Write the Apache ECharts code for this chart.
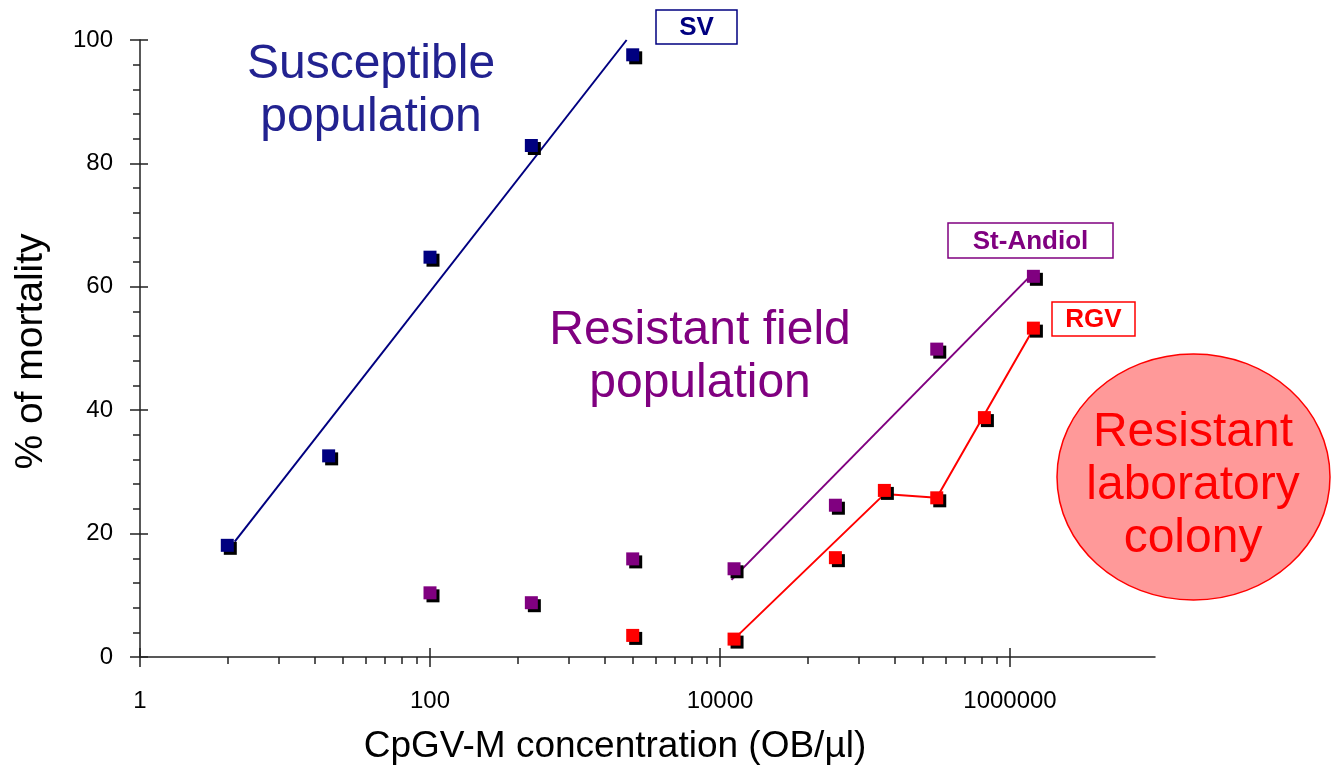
<!DOCTYPE html>
<html>
<head>
<meta charset="utf-8">
<script src="https://cdn.jsdelivr.net/npm/echarts@6/dist/echarts.min.js"></script>
<style>
  html, body { margin: 0; padding: 0; background: #ffffff; }
  #chart { width: 1331px; height: 766px; }
</style>
</head>
<body>
<div id="chart"></div>
<script>
const FONT = '"Liberation Sans", Arial, Helvetica, sans-serif';

// Dose (OB/µl) and mortality (%) per population
const svDose = [4, 20, 100, 500, 2500];
const svMortality = [18.1, 32.6, 64.8, 82.9, 97.6];

const andiolDose = [100, 500, 2500, 12500, 62500, 312500, 1450000];
const andiolMortality = [10.4, 8.8, 15.9, 14.3, 24.6, 49.9, 61.7];

const rgvDose = [2500, 12500, 62500, 136000, 312500, 666000, 1450000];
const rgvMortality = [3.5, 2.9, 16.1, 27.0, 25.8, 38.8, 53.3];

// Fitted response lines
const svFitDose = [4.5, 2270];
const svFitMortality = [18.7, 100];

const andiolFitDose = [12000, 1400000];
const andiolFitMortality = [12.5, 61.9];

const rgvFitDose = [13000, 136000, 312500, 666000, 1420000];
const rgvFitMortality = [3.3, 26.4, 25.8, 39.3, 52.8];

// Axis ticks
const xMajorTicks = [1, 100, 10000, 1000000];
const xTickLabels = ['1', '100', '10000', '1000000'];
const xMinorTicks = [
  4, 9, 16, 25, 36, 49, 64, 81,
  400, 900, 1600, 2500, 3600, 4900, 6400, 8100,
  40000, 90000, 160000, 250000, 360000, 490000, 640000, 810000
];
const yMin = 0, yMax = 100, yStep = 20;

const NAVY = '#000080';
const PURPLE = '#800080';
const RED = '#ff0000';
const AXIS = '#222222';

const pairs = (xs, ys) => xs.map((x, i) => [x, ys[i]]);

const chart = echarts.init(document.getElementById('chart'), null, { renderer: 'canvas' });

const xBase = {
  type: 'log', logBase: 10, min: 1, max: 10000000,
  gridIndex: 0, position: 'bottom',
  splitLine: { show: false }, minorTick: { show: false }, minorSplitLine: { show: false }
};
const yBase = {
  type: 'value', min: yMin, max: yMax, interval: yStep,
  gridIndex: 0, position: 'left',
  splitLine: { show: false }, minorSplitLine: { show: false }
};
const tickLine = { color: AXIS, width: 1.5 };

function fitLine(xs, ys, color) {
  return {
    type: 'line', data: pairs(xs, ys), symbol: 'none', silent: true, z: 2,
    lineStyle: { color: color, width: 2 }
  };
}
function shadowPoints(xs, ys) {
  return {
    type: 'scatter', data: pairs(xs, ys), symbol: 'rect', symbolSize: 13,
    symbolOffset: [3, 3], silent: true, z: 3,
    itemStyle: { color: '#000000', opacity: 1 }
  };
}
function points(xs, ys, color) {
  return {
    type: 'scatter', data: pairs(xs, ys), symbol: 'rect', symbolSize: 13, z: 4,
    itemStyle: { color: color, opacity: 1 }
  };
}

function boxedLabel(text, x, y, w, h, color) {
  return {
    type: 'group', x: x, y: y, z: 10,
    children: [
      { type: 'rect', shape: { x: 0, y: 0, width: w, height: h },
        style: { fill: '#ffffff', stroke: color, lineWidth: 1.5 } },
      { type: 'text', x: w / 2, y: h / 2 + 1,
        style: { text: text, fill: color, font: 'bold 26px ' + FONT, align: 'center', verticalAlign: 'middle' } }
    ]
  };
}
function bigText(text, x, y, color) {
  return {
    type: 'text', x: x, y: y, z: 10,
    style: { text: text, fill: color, font: '48px ' + FONT, lineHeight: 53,
             align: 'center', verticalAlign: 'middle' }
  };
}

chart.setOption({
  animation: false,
  backgroundColor: '#ffffff',
  grid: { left: 140, top: 40, width: 1015, height: 617, containLabel: false, outerBoundsMode: 'none' },
  xAxis: [
    Object.assign({}, xBase, {
      name: 'CpGV-M concentration (OB/µl)',
      nameLocation: 'middle', nameGap: 71,
      nameTextStyle: { fontFamily: FONT, fontSize: 37, color: '#000000', padding: [0, 65, 0, 0] },
      axisLine: { show: true, lineStyle: tickLine },
      axisTick: { show: true, inside: false, length: 10, customValues: xMajorTicks, lineStyle: tickLine },
      axisLabel: {
        show: true, customValues: xMajorTicks, margin: 32,
        fontFamily: FONT, fontSize: 24, color: '#000000',
        formatter: (v) => {
          const i = xMajorTicks.indexOf(v);
          return i >= 0 ? xTickLabels[i] : String(v);
        }
      }
    }),
    Object.assign({}, xBase, {
      axisLine: { show: false },
      axisTick: { show: true, inside: false, length: 7, customValues: xMinorTicks, lineStyle: tickLine },
      axisLabel: { show: false }
    }),
    Object.assign({}, xBase, {
      axisLine: { show: false },
      axisTick: { show: true, inside: true, length: 9, customValues: xMajorTicks, lineStyle: tickLine },
      axisLabel: { show: false }
    })
  ],
  yAxis: [
    Object.assign({}, yBase, {
      name: '% of mortality',
      nameLocation: 'middle', nameGap: 89, nameRotate: 90,
      nameTextStyle: { fontFamily: FONT, fontSize: 39, color: '#000000', padding: [0, 6, 0, 0] },
      axisLine: { show: true, lineStyle: tickLine },
      axisTick: { show: true, inside: false, length: 10, lineStyle: tickLine },
      minorTick: { show: true, splitNumber: 5, length: 7, lineStyle: tickLine },
      axisLabel: { show: true, margin: 27, fontFamily: FONT, fontSize: 24, color: '#000000' }
    }),
    Object.assign({}, yBase, {
      axisLine: { show: false },
      axisTick: { show: true, inside: true, length: 8, lineStyle: tickLine },
      minorTick: { show: false },
      axisLabel: { show: false }
    })
  ],
  series: [
    fitLine(svFitDose, svFitMortality, NAVY),
    fitLine(andiolFitDose, andiolFitMortality, PURPLE),
    fitLine(rgvFitDose, rgvFitMortality, RED),
    shadowPoints(svDose, svMortality),
    shadowPoints(andiolDose, andiolMortality),
    shadowPoints(rgvDose, rgvMortality),
    points(svDose, svMortality, NAVY),
    points(andiolDose, andiolMortality, PURPLE),
    points(rgvDose, rgvMortality, RED)
  ],
  graphic: [
    {
      type: 'ellipse', z: 5,
      shape: { cx: 1193.5, cy: 477, rx: 136.5, ry: 123 },
      style: { fill: '#ff9999', stroke: RED, lineWidth: 1.5 }
    },
    bigText('Susceptible\npopulation', 371, 91, '#222290'),
    bigText('Resistant field\npopulation', 700, 357, PURPLE),
    bigText('Resistant\nlaboratory\ncolony', 1193, 486, RED),
    boxedLabel('SV', 656, 10, 81, 34, NAVY),
    boxedLabel('St-Andiol', 948, 223, 165, 35, PURPLE),
    boxedLabel('RGV', 1052, 302, 83, 34, RED)
  ]
});
</script>
</body>
</html>
